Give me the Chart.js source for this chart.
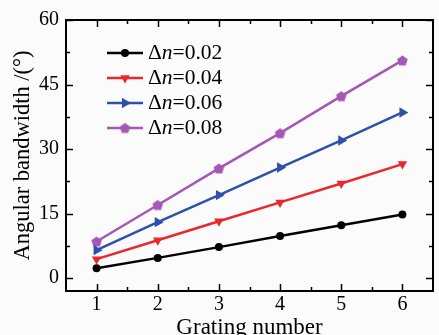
<!DOCTYPE html>
<html><head><meta charset="utf-8">
<script src="https://cdn.jsdelivr.net/npm/chart.js@4/dist/chart.umd.min.js"></script>
<style>html,body{margin:0;padding:0;background:#fbfbfb;}#wrap{width:439px;height:335px;position:relative;}</style>
</head><body><div id="wrap"><canvas id="c" width="439" height="335"></canvas></div>
<script>
const gratingNumbers = [1, 2, 3, 4, 5, 6];
const dn002 = [2.3, 4.7, 7.2, 9.8, 12.3, 14.8];
const dn004 = [4.4, 8.8, 13.2, 17.6, 22.0, 26.5];
const dn006 = [6.5, 13.0, 19.3, 25.7, 32.0, 38.5];
const dn008 = [8.5, 17.0, 25.5, 33.7, 42.3, 50.6];
const seriesLabels = ['0.02', '0.04', '0.06', '0.08'];
const yTicks = [0, 15, 30, 45, 60];
const xTitle = 'Grating number';
const yTitle = 'Angular bandwidth /(°)';

const FONT = '"Liberation Serif", "DejaVu Serif", serif';

function pentagonCanvas(color, r) {
  const s = Math.ceil(r * 2 + 2);
  const cv = document.createElement('canvas');
  cv.width = s; cv.height = s;
  const g = cv.getContext('2d');
  g.fillStyle = color;
  g.beginPath();
  for (let i = 0; i < 5; i++) {
    const a = -Math.PI / 2 + i * 2 * Math.PI / 5;
    const x = s / 2 + r * Math.cos(a), y = s / 2 + r * Math.sin(a) + 0.5;
    i ? g.lineTo(x, y) : g.moveTo(x, y);
  }
  g.closePath(); g.fill();
  return cv;
}
const purple = '#a457b4';
const pent = pentagonCanvas(purple, 5.5);

const styles = [
  {color: '#000000', pointStyle: 'circle', r: 4, rot: 0},
  {color: '#e8282c', pointStyle: 'triangle', r: 5.5, rot: 180},
  {color: '#2d50a8', pointStyle: 'triangle', r: 6, rot: 90},
  {color: purple, pointStyle: pent, r: 5.5, rot: 0}
];
const seriesData = [dn002, dn004, dn006, dn008];

const datasets = seriesData.map((vals, i) => ({
  label: 'Δn=' + seriesLabels[i],
  data: gratingNumbers.map((x, j) => ({x: x, y: vals[j]})),
  borderColor: styles[i].color,
  backgroundColor: styles[i].color,
  borderWidth: 2.5,
  pointStyle: styles[i].pointStyle,
  pointRadius: styles[i].r,
  pointRotation: styles[i].rot,
  pointBorderWidth: 0,
  pointHoverRadius: styles[i].r,
  tension: 0
}));

function drawMarker(ctx, st, x, y) {
  ctx.save();
  ctx.fillStyle = st.color;
  if (st.pointStyle instanceof HTMLCanvasElement) {
    ctx.drawImage(st.pointStyle, x - st.pointStyle.width / 2, y - st.pointStyle.height / 2);
  } else if (st.pointStyle === 'circle') {
    ctx.beginPath(); ctx.arc(x, y, st.r, 0, Math.PI * 2); ctx.fill();
  } else {
    ctx.translate(x, y); ctx.rotate(st.rot * Math.PI / 180);
    const r = st.r;
    ctx.beginPath();
    for (let i = 0; i < 3; i++) {
      const a = -Math.PI / 2 + i * 2 * Math.PI / 3;
      const px = r * Math.cos(a), py = r * Math.sin(a);
      i ? ctx.lineTo(px, py) : ctx.moveTo(px, py);
    }
    ctx.closePath(); ctx.fill();
  }
  ctx.restore();
}

const framePlugin = {
  id: 'frame',
  afterDraw(chart) {
    const {ctx, chartArea: a, scales} = chart;
    ctx.save();
    ctx.strokeStyle = '#000'; ctx.lineWidth = 2;
    ctx.strokeRect(a.left, a.top, a.right - a.left, a.bottom - a.top);
    ctx.lineWidth = 1.5;
    const ys = scales.y;
    for (let v = 0; v <= 60; v += 7.5) {
      const py = Math.round(ys.getPixelForValue(v)) + 0.5;
      const major = v % 15 === 0;
      const len = major ? 7 : 4;
      ctx.beginPath();
      ctx.moveTo(a.left, py); ctx.lineTo(a.left + len, py);
      ctx.moveTo(a.right, py); ctx.lineTo(a.right - len, py);
      ctx.stroke();
    }
    const xs = scales.x;
    for (let v = 1; v <= 6.01; v += 0.5) {
      const px = Math.round(xs.getPixelForValue(v)) + 0.5;
      const major = Math.abs(v - Math.round(v)) < 1e-6;
      const len = major ? 7 : 4;
      ctx.beginPath();
      ctx.moveTo(px, a.bottom); ctx.lineTo(px, a.bottom - len);
      ctx.moveTo(px, a.top); ctx.lineTo(px, a.top + len);
      ctx.stroke();
    }
    const lx0 = a.left + 41, lx1 = a.left + 77, tx = a.left + 82;
    let ly = a.top + 33;
    ctx.textBaseline = 'middle';
    const fs = 21.5;
    chart.data.datasets.forEach((ds, i) => {
      const st = styles[i];
      ctx.strokeStyle = st.color; ctx.lineWidth = 2.5;
      ctx.beginPath(); ctx.moveTo(lx0, ly); ctx.lineTo(lx1, ly); ctx.stroke();
      drawMarker(ctx, st, (lx0 + lx1) / 2, ly);
      ctx.fillStyle = '#000';
      let x = tx;
      ctx.font = fs + 'px ' + FONT;
      ctx.fillText('Δ', x, ly); x += ctx.measureText('Δ').width;
      ctx.font = 'italic ' + fs + 'px ' + FONT;
      ctx.fillText('n', x, ly); x += ctx.measureText('n').width;
      ctx.font = fs + 'px ' + FONT;
      ctx.fillText('=' + seriesLabels[i], x, ly);
      ly += 25;
    });
    ctx.restore();
  }
};

new Chart(document.getElementById('c'), {
  type: 'line',
  data: {datasets: datasets},
  options: {
    responsive: false,
    animation: false,
    layout: {padding: {top: 20, right: 6, left: 0, bottom: 0}},
    plugins: {legend: {display: false}, tooltip: {enabled: false}},
    scales: {
      x: {
        type: 'linear', min: 0.5, max: 6.5,
        afterBuildTicks: s => { s.ticks = gratingNumbers.map(v => ({value: v})); },
        afterFit: s => { s.height = 44; },
        grid: {display: false, drawTicks: false},
        border: {display: false},
        ticks: {color: '#000', font: {family: FONT, size: 20}, padding: 2, maxRotation: 0},
        title: {display: true, text: xTitle, color: '#000', font: {family: FONT, size: 23}, padding: {top: 0, bottom: -7}}
      },
      y: {
        type: 'linear', min: -3, max: 60,
        afterBuildTicks: s => { s.ticks = yTicks.map(v => ({value: v})); },
        afterFit: s => { s.width = 66; },
        grid: {display: false, drawTicks: false},
        border: {display: false},
        ticks: {color: '#000', font: {family: FONT, size: 20}, padding: 7},
        title: {display: true, text: yTitle, color: '#000', font: {family: FONT, size: 22.5}, padding: {top: 10, bottom: 0}}
      }
    }
  },
  plugins: [framePlugin]
});
</script></body></html>
